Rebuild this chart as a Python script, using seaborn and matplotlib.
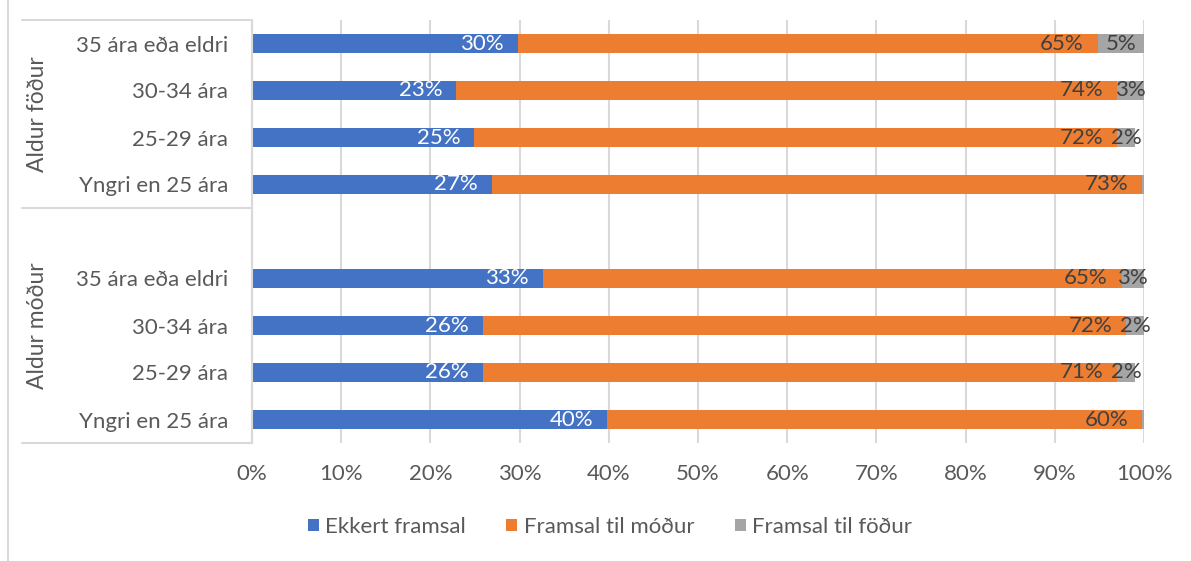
import numpy as np
import pandas as pd
import matplotlib
matplotlib.use('Agg')
import matplotlib.pyplot as plt
import matplotlib.transforms as mtransforms
from matplotlib.patches import Patch
from matplotlib.lines import Line2D
import seaborn as sns

# categories (top to bottom inside each group)
age_labels = ['35 ára eða eldri', '30-34 ára', '25-29 ára', 'Yngri en 25 ára']
groups = ['Aldur föður', 'Aldur móður']
series = ['Ekkert framsal', 'Framsal til móður', 'Framsal til föður']

# values in %
father_none = [29.8, 22.9, 24.9, 26.9]
father_to_mother = [65.0, 74.1, 72.1, 72.9]
father_to_father = [5.2, 3.0, 2.0, 0.2]
mother_none = [32.6, 25.9, 25.9, 39.8]
mother_to_mother = [64.9, 72.1, 71.1, 60.0]
mother_to_father = [2.5, 2.0, 2.0, 0.2]

colors = ['#4472C4', '#ED7D31', '#A5A5A5']
text_col = '#595959'
label_col = '#404040'
fs = 16

keys = ['f0', 'f1', 'f2', 'f3', 'm0', 'm1', 'm2', 'm3']
order = ['f0', 'f1', 'f2', 'f3', 'gap', 'm0', 'm1', 'm2', 'm3']
df = pd.DataFrame({
    'key': keys,
    'none': father_none + mother_none,
    'to_mother': father_to_mother + mother_to_mother,
    'to_father': father_to_father + mother_to_father,
})
df['c1'] = df['none']
df['c2'] = df['none'] + df['to_mother']
df['c3'] = df['c2'] + df['to_father']

sns.set_theme(style='white')
plt.rcParams['font.family'] = ['Lato', 'DejaVu Sans']

fig = plt.figure(figsize=(11.91, 5.61), dpi=100)
W, H = 1191, 561
ax = fig.add_axes([252 / W, 1 - 443 / H, (1144 - 252) / W, (443 - 20) / H])

# stacked by drawing cumulative totals, widest first
for col, c in zip(['c3', 'c2', 'c1'], colors[::-1]):
    sns.barplot(data=df, x=col, y='key', order=order, color=c, width=0.42,
                saturation=1, errorbar=None, orient='h', linewidth=0, ax=ax)

ax.set_xlim(0, 100)
ax.set_ylim(8.5, -0.5)
ax.set_xticks(np.arange(0, 101, 10))
ax.set_xticklabels([f'{v}%' for v in range(0, 101, 10)])
ax.set_yticks(range(len(order)))
ax.set_yticklabels(age_labels + [''] + age_labels)
ax.set_xlabel('')
ax.set_ylabel('')
ax.tick_params(axis='y', length=0, pad=17, labelsize=fs, labelcolor=text_col)
ax.tick_params(axis='x', length=0, pad=15, labelsize=fs, labelcolor=text_col)
ax.grid(axis='x', color='#D9D9D9', linewidth=1.5)
ax.set_axisbelow(True)
for s in ['top', 'right', 'bottom']:
    ax.spines[s].set_visible(False)
ax.spines['left'].set_color('#D9D9D9')
ax.spines['left'].set_linewidth(1.5)

# data labels
for _, r in df.iterrows():
    y = order.index(r['key'])
    ax.annotate(f"{int(r['none'] + 0.5)}%", (r['c1'], y), xytext=(-10, 0),
                textcoords='offset points', ha='right', va='center',
                color='white', fontsize=fs)
    ax.annotate(f"{int(r['to_mother'] + 0.5)}%", (r['c2'], y), xytext=(-10, 0),
                textcoords='offset points', ha='right', va='center',
                color=label_col, fontsize=fs)
    if r['to_father'] >= 1:
        ax.text((r['c2'] + r['c3']) / 2, y, f"{int(r['to_father'] + 0.5)}%",
                ha='center', va='center', color=label_col, fontsize=fs)

# group box for the multi-level category axis
tr = mtransforms.blended_transform_factory(fig.transFigure, ax.transData)
for yy in [-0.5, 3.5, 8.5]:
    fig.add_artist(Line2D([22 / W, 251 / W], [yy, yy], transform=tr,
                          color='#D9D9D9', linewidth=1.5))
for g, (lo, hi) in zip(groups, [(-0.5, 3.5), (3.5, 8.5)]):
    fig.text(38 / W, (lo + hi) / 2, g, transform=tr, rotation=90, ha='center',
             va='center', color=text_col, fontsize=16.5)

# outer chart border (left edge)
fig.add_artist(Line2D([8 / W, 8 / W], [0, 1], transform=fig.transFigure,
                      color='#D9D9D9', linewidth=1.5))

handles = [Patch(facecolor=c, edgecolor='none') for c in colors]
fig.legend(handles, series, loc='center', bbox_to_anchor=(610 / W, 1 - 527 / H),
           ncol=3, frameon=False, fontsize=16, handlelength=0.5, handleheight=0.5,
           handletextpad=0.3, columnspacing=1.8, labelcolor=text_col)

fig.savefig('out.png', dpi=100)
